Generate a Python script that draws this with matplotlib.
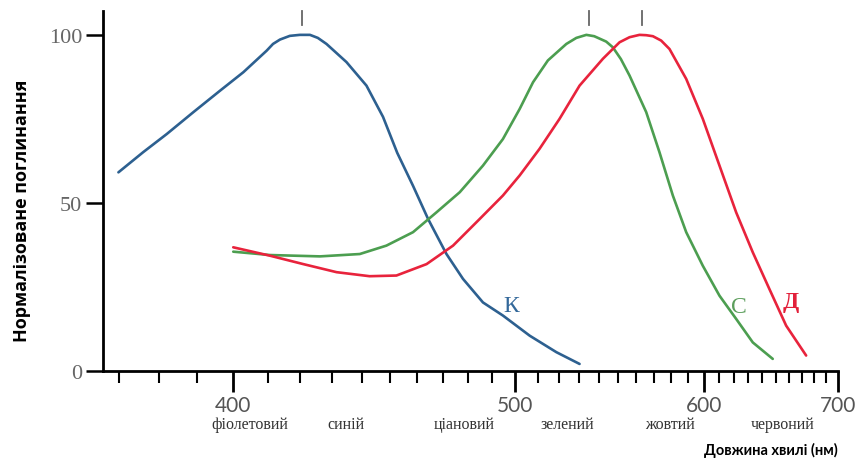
import matplotlib
matplotlib.use('Agg')
import matplotlib.pyplot as plt
import numpy as np

# ---- data (wavelength nm, normalised absorption %) ----
wl_k = [369.9, 376.0, 382.0, 389.0, 396.3, 402.9, 409.7, 411.6, 413.7, 416.7, 419.8, 423.0,
        425.5, 428.3, 434.9, 441.7, 447.5, 452.6, 458.4, 464.1, 471.2, 477.8, 486.0,
        494.5, 506.4, 518.8, 530.1]
val_k = [59.1, 65.1, 70.5, 77.0, 83.4, 88.9, 95.3, 97.3, 98.6, 99.7, 100.0, 100.0,
         99.1, 97.3, 91.9, 84.9, 75.6, 64.9, 55.1, 45.2, 34.8, 27.4, 20.4,
         16.5, 10.5, 5.6, 2.1]

wl_c = [400.0, 410.7, 426.2, 439.4, 448.7, 458.4, 467.3, 476.5, 486.0, 494.5,
        501.9, 507.9, 514.8, 523.6, 528.5, 533.5, 537.5, 543.7, 547.2, 551.5, 556.2, 565.5,
        573.1, 581.0, 589.1, 599.5, 610.3, 621.5, 633.1, 647.6]
val_c = [35.5, 34.5, 34.1, 34.8, 37.3, 41.3, 47.2, 53.2, 61.1, 69.0,
         78.0, 85.9, 92.4, 97.3, 99.1, 100.0, 99.6, 98.0, 96.3, 92.8, 87.9, 77.0,
         65.1, 52.2, 41.3, 31.3, 22.4, 15.5, 8.5, 3.6]

wl_d = [400.0, 410.7, 420.9, 431.6, 442.8, 452.3, 463.5, 473.8, 484.6, 494.5,
        501.9, 510.9, 520.3, 530.1, 542.0, 550.8, 556.2, 561.7, 565.5, 569.3, 574.1, 579.0,
        589.1, 599.5, 610.3, 621.5, 633.1, 645.1, 657.7, 673.4]
val_d = [36.8, 34.3, 31.8, 29.4, 28.2, 28.4, 31.8, 37.3, 45.2, 52.2,
         58.2, 66.1, 75.0, 84.9, 92.9, 97.8, 99.3, 100.0, 99.9, 99.6, 98.3, 95.8,
         86.9, 75.0, 61.1, 47.2, 35.3, 24.4, 13.5, 4.6]

peaks = [420.4, 534.6, 563.4]

major_ticks = [400, 500, 600, 700]
minor_ticks = [370, 380, 390, 410, 420, 430, 440, 450, 460, 470, 480, 490,
               510, 520, 530, 540, 550, 560, 570, 580, 590,
               610, 620, 630, 640, 650, 660, 670, 680, 690]
y_ticks = [0, 50, 100]

color_names = ['фіолетовий', 'синій', 'ціановий', 'зелений', 'жовтий', 'червоний']
color_name_wl = [404.8, 434.7, 478.1, 524.2, 579.0, 654.8]

curve_labels = ['К', 'С', 'Д']

# ---- figure ----
W, H = 858, 460
fig = plt.figure(figsize=(W / 100, H / 100), dpi=100)
ax = fig.add_axes([103 / W, 1 - 372 / H, (838 - 103) / W, (372 - 12) / H])


def fwd(x):
    x = np.asarray(x, dtype=float)
    with np.errstate(divide='ignore', invalid='ignore'):
        return -1.0 / x


def inv(y):
    y = np.asarray(y, dtype=float)
    with np.errstate(divide='ignore', invalid='ignore'):
        return -1.0 / y


ax.set_xscale('function', functions=(fwd, inv))
ax.set_xlim(366.2, 700)
ax.set_ylim(0, 107.1)

c_blue = '#2d6090'
c_green = '#4c9e50'
c_red = '#e8233c'

for wl, val, c in [(wl_k, val_k, c_blue), (wl_c, val_c, c_green), (wl_d, val_d, c_red)]:
    ax.plot(wl, val, color=c, lw=1.9, solid_capstyle='round', solid_joinstyle='round')

for p in peaks:
    ax.plot([p, p], [103.0, 107.0], color='#666666', lw=1.3, clip_on=False)

# curve labels
ax.text(498.1, 19.5, curve_labels[0], color='#33689a', fontsize=17,
        family='Liberation Serif', ha='center', va='center')
ax.text(623.1, 19.2, curve_labels[1], color='#5c9e5c', fontsize=17,
        family='Liberation Serif', ha='center', va='center')
ax.text(660.9, 20.8, curve_labels[2], color='#e2203a', fontsize=17,
        family='Liberation Serif', ha='center', va='center', fontweight='bold')

# spines
for s in ['top', 'right']:
    ax.spines[s].set_visible(False)
for s in ['left', 'bottom']:
    ax.spines[s].set_linewidth(2.0)
    ax.spines[s].set_color('black')

ax.set_xticks(major_ticks)
ax.set_xticklabels([str(t) for t in major_ticks])
ax.set_xticks(minor_ticks, minor=True)
ax.xaxis.set_minor_formatter(matplotlib.ticker.NullFormatter())
ax.tick_params(axis='x', which='major', direction='out', length=15, width=2.0,
               pad=2, labelsize=15, labelcolor='#555555')
ax.tick_params(axis='x', which='minor', direction='out', length=8.5, width=1.5)
for lab in ax.get_xticklabels():
    lab.set_family('Lato')

ax.set_yticks(y_ticks)
ax.set_yticklabels([str(t) for t in y_ticks])
ax.tick_params(axis='y', which='major', direction='out', length=12, width=1.8,
               pad=3, labelsize=16, labelcolor='#666666')
for lab in ax.get_yticklabels():
    lab.set_family('Liberation Serif')
ax.yaxis.set_minor_locator(matplotlib.ticker.NullLocator())

# colour names under axis
trans = matplotlib.transforms.blended_transform_factory(ax.transData, fig.transFigure)
for name, x in zip(color_names, color_name_wl):
    ax.text(x, 1 - 429 / H, name, transform=trans, ha='center', va='baseline',
            fontsize=11.5, family='Liberation Serif', color='#333333')

fig.text(838 / W, 1 - 455 / H, 'Довжина хвилі (нм)', ha='right', va='baseline',
         fontsize=10.5, fontweight='bold', family='Lato', color='black')
fig.text(22 / W, 1 - 211 / H, 'Нормалізоване поглинання', rotation=90,
         ha='center', va='center', fontsize=13, fontweight='bold',
         family='Open Sans', color='black')

fig.savefig('out.png', dpi=100)
